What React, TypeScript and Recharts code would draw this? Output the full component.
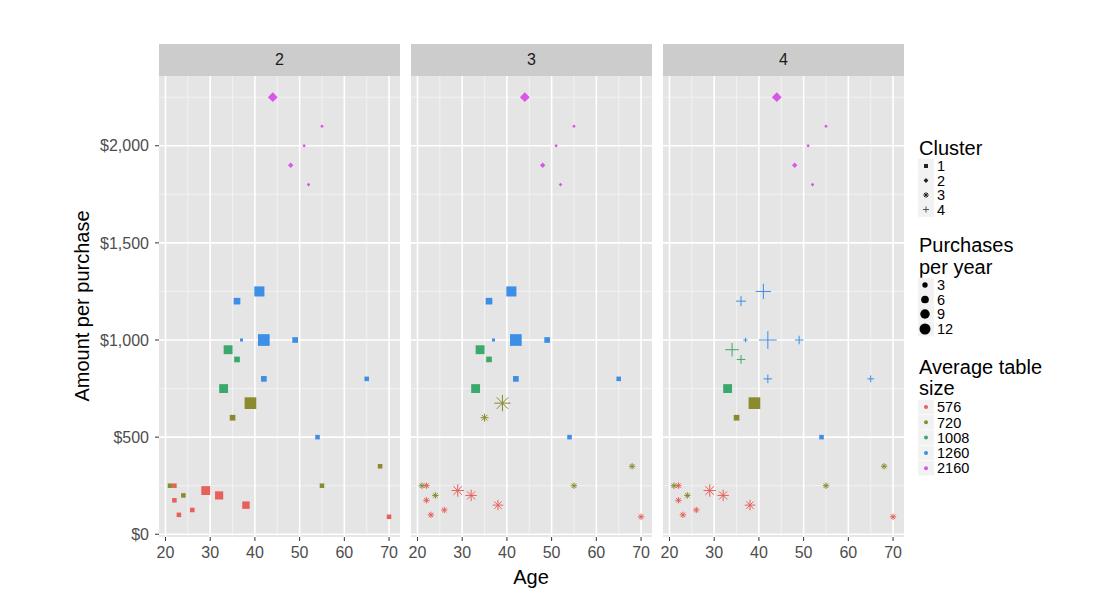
import React from "react";
import {
  CartesianGrid,
  Scatter,
  ScatterChart,
  XAxis,
  YAxis,
  ZAxis,
} from "recharts";

// facets = number of clusters in the solution
const facets = [2, 3, 4];

// one entry per customer
const ages = [44, 55, 51, 48, 52, 41, 36, 37, 42, 49, 42, 65, 54, 34, 36, 33, 39, 35, 68, 55, 21, 24, 22, 29, 32, 22, 38, 26, 23, 70];
const amounts = [2250, 2100, 2000, 1900, 1800, 1250, 1200, 1000, 1000, 1000, 800, 800, 500, 950, 900, 750, 675, 600, 350, 250, 250, 200, 250, 225, 200, 175, 150, 125, 100, 90];
const purchases = [6, 1, 1, 2, 1, 9, 4, 1, 12, 3, 3, 2, 2, 7, 3, 7, 12, 3, 2, 2, 2, 2, 2, 7, 6, 2, 5, 2, 2, 2];
const tableSize = [2160, 2160, 2160, 2160, 2160, 1260, 1260, 1260, 1260, 1260, 1260, 1260, 1260, 1008, 1008, 1008, 720, 720, 720, 720, 720, 720, 576, 576, 576, 576, 576, 576, 576, 576];
const clusterK2 = [2, 2, 2, 2, 2, 1, 1, 1, 1, 1, 1, 1, 1, 1, 1, 1, 1, 1, 1, 1, 1, 1, 1, 1, 1, 1, 1, 1, 1, 1];
const clusterK3 = [2, 2, 2, 2, 2, 1, 1, 1, 1, 1, 1, 1, 1, 1, 1, 1, 3, 3, 3, 3, 3, 3, 3, 3, 3, 3, 3, 3, 3, 3];
const clusterK4 = [2, 2, 2, 2, 2, 4, 4, 4, 4, 4, 4, 4, 1, 4, 4, 1, 1, 1, 3, 3, 3, 3, 3, 3, 3, 3, 3, 3, 3, 3];

const tableSizes = [576, 720, 1008, 1260, 2160];
const tableColors = ["#E8605A", "#8A8A2E", "#3BA86C", "#3C8EE6", "#D957E6"];
const clusterLabels = [1, 2, 3, 4];
const purchaseBreaks = [3, 6, 9, 12];

const xTicks = [20, 30, 40, 50, 60, 70];
const xMinor = [25, 35, 45, 55, 65];
const yTicks = [0, 500, 1000, 1500, 2000];
const yMinor = [250, 750, 1250, 1750, 2250];

const clusterByFacet: Record<number, number[]> = { 2: clusterK2, 3: clusterK3, 4: clusterK4 };

const FONT = "'Liberation Sans', Arial, Helvetica, sans-serif";
const PANEL_TOP = 76;
const PANEL_H = 461;
const PANEL_W = 241;
const PANEL_LEFTS = [159, 411, 663];
const Y_AXIS_W = 100;
const X_AXIS_H = 30;
const SIDE_PAD = 10; // room for the outer tick labels of panels 2 and 3

// size scale shared by the points and the legend keys
const Z_DOMAIN: [number, number] = [1, 12];
const Z_RANGE: [number, number] = [7, 107];
const keyWidth = (v: number) => {
  const area = Z_RANGE[0] + ((v - Z_DOMAIN[0]) / (Z_DOMAIN[1] - Z_DOMAIN[0])) * (Z_RANGE[1] - Z_RANGE[0]);
  return 2 * Math.sqrt(area / Math.PI);
};

const money = (v: number) => "$" + v.toLocaleString("en-US");

const Mark = ({ cx, cy, w, kind, color }: { cx: number; cy: number; w: number; kind: number; color: string }) => {
  if (kind === 1) {
    return <rect x={cx - w / 2} y={cy - w / 2} width={w} height={w} fill={color} />;
  }
  if (kind === 2) {
    const h = w * 0.6;
    return <polygon points={`${cx},${cy - h} ${cx + h},${cy} ${cx},${cy + h} ${cx - h},${cy}`} fill={color} />;
  }
  if (kind === 3) {
    const r = w * 0.7;
    const d = r * Math.SQRT1_2;
    return (
      <g stroke={color} strokeWidth={1}>
        <line x1={cx - r} y1={cy} x2={cx + r} y2={cy} />
        <line x1={cx} y1={cy - r} x2={cx} y2={cy + r} />
        <line x1={cx - d} y1={cy - d} x2={cx + d} y2={cy + d} />
        <line x1={cx - d} y1={cy + d} x2={cx + d} y2={cy - d} />
      </g>
    );
  }
  const r = w * 0.76;
  return (
    <g stroke={color} strokeWidth={1}>
      <line x1={cx - r} y1={cy} x2={cx + r} y2={cy} />
      <line x1={cx} y1={cy - r} x2={cx} y2={cy + r} />
    </g>
  );
};

const renderPoint = (color: string) => (props: any) => {
  const { cx, cy, payload } = props;
  if (cx == null || cy == null) return <g />;
  const w = props.width ?? keyWidth(payload.purchases);
  return <Mark cx={cx} cy={cy} w={w} kind={payload.cluster} color={color} />;
};

const Panel = ({ k, index }: { k: number; index: number }) => {
  const first = index === 0;
  const clusters = clusterByFacet[k];
  const padLeft = first ? 0 : SIDE_PAD;
  const left = PANEL_LEFTS[index] - (first ? Y_AXIS_W : SIDE_PAD);
  const width = PANEL_W + (first ? Y_AXIS_W : SIDE_PAD) + SIDE_PAD;
  return (
    <>
      <div
        style={{
          position: "absolute",
          left: PANEL_LEFTS[index],
          top: 44,
          width: PANEL_W,
          height: 32,
          background: "#CCCCCC",
          color: "#1A1A1A",
          fontSize: 16,
          lineHeight: "32px",
          textAlign: "center",
        }}
      >
        {k}
      </div>
      <div style={{ position: "absolute", left, top: PANEL_TOP }}>
        <ScatterChart
          width={width}
          height={PANEL_H + X_AXIS_H}
          margin={{ top: 0, right: SIDE_PAD, bottom: 0, left: padLeft }}
        >
          <CartesianGrid
            fill="#E5E5E5"
            stroke="#F2F2F2"
            strokeWidth={1}
            horizontalValues={yMinor}
            verticalValues={xMinor}
          />
          <CartesianGrid
            stroke="#FFFFFF"
            strokeWidth={1.6}
            horizontalValues={yTicks}
            verticalValues={xTicks}
          />
          <XAxis
            type="number"
            dataKey="age"
            domain={[18.55, 72.45]}
            allowDataOverflow
            ticks={xTicks}
            interval={0}
            height={X_AXIS_H}
            axisLine={false}
            tickSize={4}
            tickMargin={6}
            tickLine={{ stroke: "#333333" }}
            tick={{ fill: "#4D4D4D", fontSize: 16 }}
          />
          <YAxis
            type="number"
            dataKey="amount"
            domain={[-14, 2359]}
            allowDataOverflow
            ticks={yTicks}
            interval={0}
            hide={!first}
            width={Y_AXIS_W}
            axisLine={false}
            tickSize={4}
            tickMargin={6}
            tickFormatter={money}
            tickLine={{ stroke: "#333333" }}
            tick={{ fill: "#4D4D4D", fontSize: 16 }}
          />
          <ZAxis type="number" dataKey="purchases" domain={Z_DOMAIN} range={Z_RANGE} />
          {tableSizes.map((t, ci) => (
            <Scatter
              key={t}
              data={ages
                .map((a, i) => ({ age: a, amount: amounts[i], purchases: purchases[i], table: tableSize[i], cluster: clusters[i] }))
                .filter((d) => d.table === t)}
              fill={tableColors[ci]}
              shape={renderPoint(tableColors[ci])}
              isAnimationActive={false}
            />
          ))}
        </ScatterChart>
      </div>
    </>
  );
};

const Legend = () => {
  const boxX = 13;
  const boxW = 16;
  const labelX = 32;
  const clusterRows = [36, 50.5, 65, 79.5];
  const purchaseRows = [155, 169.5, 184, 199];
  const tableRows = [277, 292.3, 307.6, 322.9, 338.2];
  const rowH = 14.6;
  const labelSize = 14.5;
  const box = (cy: number, key: string) => (
    <rect key={key} x={boxX} y={cy - rowH / 2} width={boxW} height={rowH} fill="#F2F2F2" />
  );
  const cxKey = boxX + boxW / 2;
  return (
    <svg style={{ position: "absolute", left: 905, top: 130 }} width={200} height={360} fontFamily={FONT}>
      <text x={14} y={24.5} fontSize={20} fill="#000">Cluster</text>
      {clusterLabels.map((c, i) => (
        <g key={"c" + c}>
          {box(clusterRows[i], "cb" + c)}
          <Mark cx={cxKey} cy={clusterRows[i]} w={4} kind={c} color={c === 4 ? "#555555" : "#222222"} />
          <text x={labelX} y={clusterRows[i] + 5.2} fontSize={labelSize} fill="#000">{c}</text>
        </g>
      ))}
      <text x={14} y={122} fontSize={20} fill="#000">Purchases</text>
      <text x={14} y={144} fontSize={20} fill="#000">per year</text>
      {purchaseBreaks.map((p, i) => (
        <g key={"p" + p}>
          {box(purchaseRows[i], "pb" + p)}
          <circle cx={cxKey - 1} cy={purchaseRows[i]} r={keyWidth(p) * 0.47} fill="#000" />
          <text x={labelX} y={purchaseRows[i] + 5.2} fontSize={labelSize} fill="#000">{p}</text>
        </g>
      ))}
      <text x={14} y={244} fontSize={20} fill="#000">Average table</text>
      <text x={14} y={265} fontSize={20} fill="#000">size</text>
      {tableSizes.map((t, i) => (
        <g key={"t" + t}>
          {box(tableRows[i], "tb" + t)}
          <circle cx={cxKey} cy={tableRows[i]} r={2} fill={tableColors[i]} />
          <text x={labelX} y={tableRows[i] + 5.2} fontSize={labelSize} fill="#000">{t}</text>
        </g>
      ))}
    </svg>
  );
};

export default function App() {
  return (
    <div
      style={{
        position: "absolute",
        left: 0,
        top: 0,
        width: 1114,
        height: 605,
        background: "#FFFFFF",
        fontFamily: FONT,
        overflow: "hidden",
      }}
    >
      {facets.map((k, i) => (
        <Panel key={k} k={k} index={i} />
      ))}
      <div
        style={{
          position: "absolute",
          left: 82,
          top: 306,
          transform: "translate(-50%, -50%) rotate(-90deg)",
          whiteSpace: "nowrap",
          fontSize: 20,
          color: "#000",
        }}
      >
        Amount per purchase
      </div>
      <div
        style={{
          position: "absolute",
          left: 531,
          top: 577,
          transform: "translate(-50%, -50%)",
          fontSize: 20,
          color: "#000",
        }}
      >
        Age
      </div>
      <Legend />
    </div>
  );
}
